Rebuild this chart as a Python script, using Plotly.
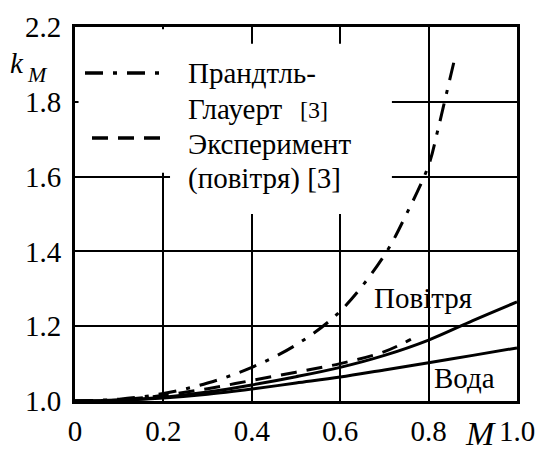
import plotly.graph_objects as go

# ---- data ----
M_pg = [0.0, 0.1, 0.2, 0.3, 0.4, 0.5, 0.6, 0.7, 0.75, 0.8, 0.82, 0.84, 0.86]
k_pg = [1.0, 1.005, 1.02, 1.048, 1.09, 1.15, 1.24, 1.39, 1.50, 1.63, 1.72, 1.82, 1.92]

M_exp = [0.0, 0.1, 0.2, 0.3, 0.4, 0.5, 0.6, 0.7, 0.76]
k_exp = [1.0, 1.003, 1.015, 1.033, 1.055, 1.077, 1.10, 1.132, 1.165]

M_air = [0.0, 0.1, 0.2, 0.3, 0.4, 0.5, 0.6, 0.7, 0.8, 0.9, 1.0]
k_air = [1.0, 1.002, 1.01, 1.024, 1.043, 1.065, 1.09, 1.122, 1.163, 1.215, 1.265]

M_water = [0.0, 0.1, 0.2, 0.3, 0.4, 0.5, 0.6, 0.7, 0.8, 0.9, 1.0]
k_water = [1.0, 1.002, 1.008, 1.018, 1.032, 1.048, 1.064, 1.083, 1.102, 1.122, 1.142]

x_ticks = [0.0, 0.2, 0.4, 0.6, 0.8, 1.0]
x_ticktext = ["0", "0.2", "0.4", "0.6", "0.8", "1.0"]
y_ticks = [1.0, 1.2, 1.4, 1.6, 1.8, 2.0]
y_ticktext = ["1.0", "1.2", "1.4", "1.6", "1.8", "2.2"]

legend_pg = ["Прандтль-", "Глауерт", "[3]"]
legend_exp = ["Эксперимент", "(повітря) [3]"]
label_air = "Повітря"
label_water = "Вода"

FONT = "Liberation Serif"
FS = 29
DASHDOT = "18px,10px,4px,10px"
DASH = "16px,10px"

fig = go.Figure()
fig.add_trace(go.Scatter(x=M_pg, y=k_pg, mode="lines", line=dict(color="black", width=3, dash=DASHDOT, shape="spline"), showlegend=False))
fig.add_trace(go.Scatter(x=M_exp, y=k_exp, mode="lines", line=dict(color="black", width=3, dash=DASH, shape="spline"), showlegend=False))
fig.add_trace(go.Scatter(x=M_air, y=k_air, mode="lines", line=dict(color="black", width=3, shape="spline"), showlegend=False))
fig.add_trace(go.Scatter(x=M_water, y=k_water, mode="lines", line=dict(color="black", width=3, shape="spline"), showlegend=False))

# white areas behind the legend text (hide grid there)
white = dict(type="rect", xref="x", yref="y", fillcolor="white", line=dict(width=0), layer="above")
fig.add_shape(**white, x0=0.008, x1=0.717, y0=1.61, y1=1.955)
fig.add_shape(**white, x0=0.215, x1=0.717, y0=1.50, y1=1.615)
fig.add_shape(**white, x0=0.15, x1=0.25, y0=1.95, y1=1.994)

# legend line samples (paper coords)
def px2x(px):
    return (px - 75) / 442.0

def py2y(py):
    return (401 - py) / 374.0

fig.add_shape(type="line", xref="paper", yref="paper", x0=px2x(85), x1=px2x(161), y0=py2y(73), y1=py2y(73),
              line=dict(color="black", width=3.5, dash=DASHDOT), layer="above")
fig.add_shape(type="line", xref="paper", yref="paper", x0=px2x(92), x1=px2x(161), y0=py2y(138), y1=py2y(138),
              line=dict(color="black", width=3.5, dash=DASH), layer="above")

def txt(s, px, py, size=FS, anchor="left", yanchor="middle", style="normal"):
    fig.add_annotation(text=s, xref="paper", yref="paper", x=px2x(px), y=py2y(py), showarrow=False,
                       xanchor=anchor, yanchor=yanchor,
                       font=dict(family=FONT, size=size, color="black", style=style))

txt(legend_pg[0], 186, 73)
txt(legend_pg[1], 186, 109)
txt(legend_pg[2], 298, 110, size=24)
txt(legend_exp[0], 186, 144)
txt(legend_exp[1], 186, 179)
txt(label_air, 372, 298)
txt(label_water, 432, 378)
txt("k", 8, 63, style="italic")
txt("M", 25, 75, size=22, style="italic")
txt("M", 480, 454, size=34, anchor="center", yanchor="bottom", style="italic")

axis_common = dict(showline=True, mirror=True, linecolor="black", linewidth=3,
                   showgrid=True, gridcolor="black", gridwidth=1.5, zeroline=False,
                   ticks="outside", tickcolor="rgba(0,0,0,0)", automargin=False,
                   tickfont=dict(family=FONT, size=FS, color="black"))
fig.update_xaxes(range=[0, 1], tickvals=x_ticks, ticktext=x_ticktext, ticklen=2, **axis_common)
fig.update_yaxes(range=[1.0, 2.0], tickvals=y_ticks, ticktext=y_ticktext, ticklen=5, **axis_common)

fig.update_layout(width=539, height=454, margin=dict(l=75, r=22, t=27, b=53),
                  plot_bgcolor="white", paper_bgcolor="white", showlegend=False,
                  font=dict(family=FONT, size=FS, color="black"))

post = (
    "document.body.style.margin='0';"
    "var s=document.createElement('style');"
    "s.textContent='.plotly text, .plotly tspan{font-family:\"Liberation Serif\",\"Times New Roman\",serif !important;}';"
    "document.head.appendChild(s);"
)
fig.write_html("out.html", post_script=post, config={"displayModeBar": False})
